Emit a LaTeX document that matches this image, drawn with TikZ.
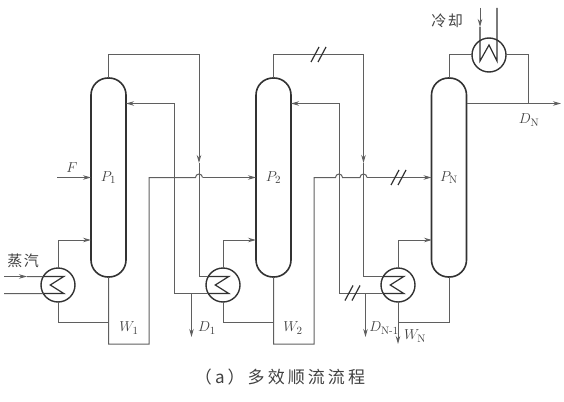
\documentclass[tikz,border=0pt]{standalone}
\usepackage{fontspec}
\usepackage{amsmath}
\usetikzlibrary{arrows.meta, positioning}
\newfontfamily\cjk{Noto Sans CJK SC}[LetterSpace=10]
\newfontfamily\cjkwide{Noto Sans CJK SC}[LetterSpace=18]
\definecolor{pipecol}{RGB}{95,95,95}
\definecolor{vesselcol}{RGB}{50,50,50}
\definecolor{labelcol}{RGB}{65,65,65}
\tikzset{
  column/.style={rectangle, rounded corners=17pt, draw=vesselcol, line width=1.6pt,
                 minimum width=35pt, minimum height=199pt, inner sep=0pt, outer sep=0pt,
                 font=\fontsize{15.5}{15.5}\selectfont, text=labelcol},
  exchanger/.style={circle, draw=vesselcol, line width=1.4pt, minimum size=34pt,
                    inner sep=0pt, outer sep=0pt},
  pipe/.style={draw=pipecol, line width=1pt},
  arr/.style={pipe, -{Stealth[length=8pt, width=4.5pt]}},
  coil/.style={draw=vesselcol, line width=1.2pt},
  tag/.style={font=\fontsize{15.5}{15.5}\selectfont, text=labelcol, inner sep=0pt},
  cjktag/.style={font=\cjk\fontsize{15}{15}\selectfont, text=labelcol, inner sep=0pt},
}
\newcommand{\slashmark}[2]{%
  \draw[pipe, vesselcol, line width=1.2pt] (#1-4,#2+7.5) -- (#1+4,#2-7.5);
  \draw[pipe, vesselcol, line width=1.2pt] (#1+3,#2+7.5) -- (#1+11,#2-7.5);
}
\begin{document}
\begin{tikzpicture}[x=1pt, y=-1pt]
  \useasboundingbox (0,0) rectangle (564,401);

  % columns
  \node[column] (col1) at (108.5,177.5) {$P_{1}$};
  \node[column] (col2) at (273.5,177.5) {$P_{2}$};
  \node[column] (colN) at (449,177.5) {$P_{\mathrm{N}}$};

  % exchangers
  \node[exchanger] (hx1) at (58,285) {};
  \node[exchanger] (hx2) at (223,285) {};
  \node[exchanger] (hxN) at (398,285) {};
  \node[exchanger] (cond) at (489,55) {};

  \foreach \hx in {hx1,hx2,hxN}
    \draw[coil] (\hx.150) -- ++(20.5,0) -- ++(-13.5,8.5) -- ++(13.5,8.5) -- (\hx.210);

  % routing points
  \coordinate (top1) at (199,55);
  \coordinate (top2) at (363.5,55);
  \coordinate (in1) at (199,163);
  \coordinate (in2) at (363.5,163);
  \coordinate (ref1) at (174.5,103.5);
  \coordinate (ref2) at (339,103.5);
  \coordinate (dr1) at (191.5,337);
  \coordinate (dr2) at (365.5,337);
  \coordinate (low1) at (149,344);
  \coordinate (low2) at (314,344);
  \coordinate (feed) at (57,177.5);
  \coordinate (steamin) at (4,276.5);
  \coordinate (steamarr) at (27,276.5);
  \coordinate (steamout) at (4,293.5);
  \coordinate (wN) at (398,344);
  \coordinate (topN) at (528,55);
  \coordinate (dN) at (561,103.5);
  \coordinate (coolin) at (480,8);
  \coordinate (coolarr) at (480,27);
  \coordinate (coolout) at (497,8);

  % feed and steam
  \draw[arr] (feed) -- (col1.west);
  \draw[arr] (steamin) -- (steamarr);
  \draw[pipe] (steamarr) -- (hx1.150);
  \draw[pipe] (steamout) -- (hx1.210);

  % reboilers
  \draw[arr] (hx1.north) |- (91,240);
  \draw[arr] (hx2.north) |- (256,240);
  \draw[arr] (hxN.north) |- (432,240);
  \draw[pipe] (hx1.south) |- (108.5,322);
  \draw[pipe] (hx2.south) |- (273.5,322);
  \draw[pipe] (colN.south) |- (398,322);
  \draw[arr] (hxN.south) -- (wN);

  % vapour lines
  \draw[arr] (col1.north) |- (top1) -- (in1);
  \draw[pipe] (in1) |- (hx2.150);
  \draw[arr] (col2.north) |- (top2) -- (in2);
  \draw[pipe] (in2) |- (hxN.150);

  % condensate back to the columns
  \draw[arr] (hx2.210) -| (ref1) -- (126,103.5);
  \draw[arr] (hxN.210) -| (ref2) -- (291,103.5);
  \draw[arr] (dr1 |- hx2.210) -- (dr1);
  \draw[arr] (dr2 |- hxN.210) -- (dr2);

  % bottoms to next column, hops over the vapour lines
  \draw[pipe] (col1.south) |- (low1) -- (149,177.5) -- (195.5,177.5)
    arc[start angle=180, end angle=360, radius=3.5] -- (202.5,177.5);
  \draw[arr] (202.5,177.5) -- (col2.west);
  \draw[pipe] (col2.south) |- (low2) -- (314,177.5) -- (335.5,177.5)
    arc[start angle=180, end angle=360, radius=3.5] -- (360,177.5)
    arc[start angle=180, end angle=360, radius=3.5];
  \draw[arr] (367,177.5) -- (colN.west);

  % last column and condenser
  \draw[pipe] (colN.north) |- (cond.west);
  \draw[pipe] (cond.east) -| (topN) -- (topN |- dN);
  \draw[arr] (466.5,103.5) -- (dN);
  \draw[arr] (coolin) -- (coolarr);
  \draw[coil] (coolarr) -- (480,61) -- (489,45) -- (497,61) -- (coolout);

  % double slashes
  \slashmark{315}{54.5}
  \slashmark{395}{177.5}
  \slashmark{349}{293}

  % labels
  \node[tag] (lblF) at (72,168) {$F$};
  \node[tag] (lblW1) at (129,328) {$W_{1}$};
  \node[tag] (lblW2) at (293,328) {$W_{2}$};
  \node[tag] (lblD1) at (207,328) {$D_{1}$};
  \node[tag] (lblDm) at (384,328) {$D_{\mathrm{N\text{-}1}}$};
  \node[tag] (lblWN) at (415,336) {$W_{\mathrm{N}}$};
  \node[tag] (lblDN) at (529,120) {$D_{\mathrm{N}}$};
  \node[cjktag] (lblsteam) at (23,261) {蒸汽};
  \node[cjktag] (lblcool) at (447,21) {冷却};
  \node[cjktag, font=\cjkwide\fontsize{17}{17}\selectfont] (caption) at (280,377) {（a）多效顺流流程};
\end{tikzpicture}
\end{document}
